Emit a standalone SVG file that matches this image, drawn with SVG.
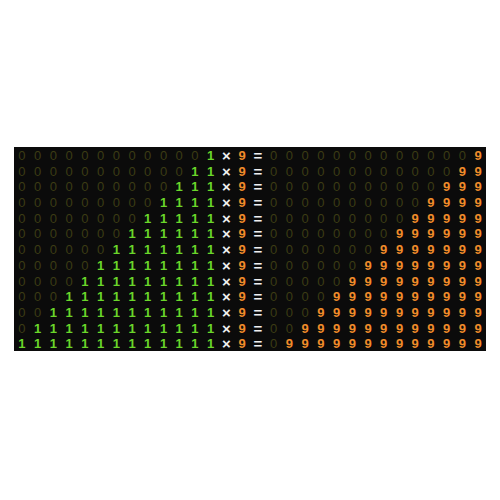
<svg xmlns="http://www.w3.org/2000/svg" width="500" height="500" viewBox="0 0 500 500">
<style>
text{font-family:"Liberation Sans","DejaVu Sans",sans-serif;font-size:13px;text-anchor:middle;dominant-baseline:central}
.z{fill:#3c3c14}
.o{fill:#6ad62a;font-weight:bold}
.w{fill:#f0f0f0;font-weight:bold;font-size:15px}
.n{fill:#f08c2a;font-weight:bold}
</style>
<rect x="0" y="0" width="500" height="500" fill="#ffffff"/>
<rect id="board" x="14" y="147" width="472" height="204" fill="#0b0b0b"/>
<g id="rows">
<text id="r0" x="21.9 37.6 53.3 69.1 84.8 100.5 116.3 132 147.7 163.5 179.2 194.9 210.7 226.4 242.1 257.9 273.6 289.3 305.1 320.8 336.5 352.3 368 383.7 399.5 415.2 430.9 446.7 462.4 478.1" y="154.9"><tspan class="z">000000000000</tspan><tspan class="o">1</tspan><tspan class="w">×</tspan><tspan class="n">9</tspan><tspan class="w">=</tspan><tspan class="z">0000000000000</tspan><tspan class="n">9</tspan></text>
<text id="r1" x="21.9 37.6 53.3 69.1 84.8 100.5 116.3 132 147.7 163.5 179.2 194.9 210.7 226.4 242.1 257.9 273.6 289.3 305.1 320.8 336.5 352.3 368 383.7 399.5 415.2 430.9 446.7 462.4 478.1" y="170.6"><tspan class="z">00000000000</tspan><tspan class="o">11</tspan><tspan class="w">×</tspan><tspan class="n">9</tspan><tspan class="w">=</tspan><tspan class="z">000000000000</tspan><tspan class="n">99</tspan></text>
<text id="r2" x="21.9 37.6 53.3 69.1 84.8 100.5 116.3 132 147.7 163.5 179.2 194.9 210.7 226.4 242.1 257.9 273.6 289.3 305.1 320.8 336.5 352.3 368 383.7 399.5 415.2 430.9 446.7 462.4 478.1" y="186.3"><tspan class="z">0000000000</tspan><tspan class="o">111</tspan><tspan class="w">×</tspan><tspan class="n">9</tspan><tspan class="w">=</tspan><tspan class="z">00000000000</tspan><tspan class="n">999</tspan></text>
<text id="r3" x="21.9 37.6 53.3 69.1 84.8 100.5 116.3 132 147.7 163.5 179.2 194.9 210.7 226.4 242.1 257.9 273.6 289.3 305.1 320.8 336.5 352.3 368 383.7 399.5 415.2 430.9 446.7 462.4 478.1" y="202"><tspan class="z">000000000</tspan><tspan class="o">1111</tspan><tspan class="w">×</tspan><tspan class="n">9</tspan><tspan class="w">=</tspan><tspan class="z">0000000000</tspan><tspan class="n">9999</tspan></text>
<text id="r4" x="21.9 37.6 53.3 69.1 84.8 100.5 116.3 132 147.7 163.5 179.2 194.9 210.7 226.4 242.1 257.9 273.6 289.3 305.1 320.8 336.5 352.3 368 383.7 399.5 415.2 430.9 446.7 462.4 478.1" y="217.7"><tspan class="z">00000000</tspan><tspan class="o">11111</tspan><tspan class="w">×</tspan><tspan class="n">9</tspan><tspan class="w">=</tspan><tspan class="z">000000000</tspan><tspan class="n">99999</tspan></text>
<text id="r5" x="21.9 37.6 53.3 69.1 84.8 100.5 116.3 132 147.7 163.5 179.2 194.9 210.7 226.4 242.1 257.9 273.6 289.3 305.1 320.8 336.5 352.3 368 383.7 399.5 415.2 430.9 446.7 462.4 478.1" y="233.4"><tspan class="z">0000000</tspan><tspan class="o">111111</tspan><tspan class="w">×</tspan><tspan class="n">9</tspan><tspan class="w">=</tspan><tspan class="z">00000000</tspan><tspan class="n">999999</tspan></text>
<text id="r6" x="21.9 37.6 53.3 69.1 84.8 100.5 116.3 132 147.7 163.5 179.2 194.9 210.7 226.4 242.1 257.9 273.6 289.3 305.1 320.8 336.5 352.3 368 383.7 399.5 415.2 430.9 446.7 462.4 478.1" y="249.1"><tspan class="z">000000</tspan><tspan class="o">1111111</tspan><tspan class="w">×</tspan><tspan class="n">9</tspan><tspan class="w">=</tspan><tspan class="z">0000000</tspan><tspan class="n">9999999</tspan></text>
<text id="r7" x="21.9 37.6 53.3 69.1 84.8 100.5 116.3 132 147.7 163.5 179.2 194.9 210.7 226.4 242.1 257.9 273.6 289.3 305.1 320.8 336.5 352.3 368 383.7 399.5 415.2 430.9 446.7 462.4 478.1" y="264.8"><tspan class="z">00000</tspan><tspan class="o">11111111</tspan><tspan class="w">×</tspan><tspan class="n">9</tspan><tspan class="w">=</tspan><tspan class="z">000000</tspan><tspan class="n">99999999</tspan></text>
<text id="r8" x="21.9 37.6 53.3 69.1 84.8 100.5 116.3 132 147.7 163.5 179.2 194.9 210.7 226.4 242.1 257.9 273.6 289.3 305.1 320.8 336.5 352.3 368 383.7 399.5 415.2 430.9 446.7 462.4 478.1" y="280.5"><tspan class="z">0000</tspan><tspan class="o">111111111</tspan><tspan class="w">×</tspan><tspan class="n">9</tspan><tspan class="w">=</tspan><tspan class="z">00000</tspan><tspan class="n">999999999</tspan></text>
<text id="r9" x="21.9 37.6 53.3 69.1 84.8 100.5 116.3 132 147.7 163.5 179.2 194.9 210.7 226.4 242.1 257.9 273.6 289.3 305.1 320.8 336.5 352.3 368 383.7 399.5 415.2 430.9 446.7 462.4 478.1" y="296.2"><tspan class="z">000</tspan><tspan class="o">1111111111</tspan><tspan class="w">×</tspan><tspan class="n">9</tspan><tspan class="w">=</tspan><tspan class="z">0000</tspan><tspan class="n">9999999999</tspan></text>
<text id="r10" x="21.9 37.6 53.3 69.1 84.8 100.5 116.3 132 147.7 163.5 179.2 194.9 210.7 226.4 242.1 257.9 273.6 289.3 305.1 320.8 336.5 352.3 368 383.7 399.5 415.2 430.9 446.7 462.4 478.1" y="311.9"><tspan class="z">00</tspan><tspan class="o">11111111111</tspan><tspan class="w">×</tspan><tspan class="n">9</tspan><tspan class="w">=</tspan><tspan class="z">000</tspan><tspan class="n">99999999999</tspan></text>
<text id="r11" x="21.9 37.6 53.3 69.1 84.8 100.5 116.3 132 147.7 163.5 179.2 194.9 210.7 226.4 242.1 257.9 273.6 289.3 305.1 320.8 336.5 352.3 368 383.7 399.5 415.2 430.9 446.7 462.4 478.1" y="327.6"><tspan class="z">0</tspan><tspan class="o">111111111111</tspan><tspan class="w">×</tspan><tspan class="n">9</tspan><tspan class="w">=</tspan><tspan class="z">00</tspan><tspan class="n">999999999999</tspan></text>
<text id="r12" x="21.9 37.6 53.3 69.1 84.8 100.5 116.3 132 147.7 163.5 179.2 194.9 210.7 226.4 242.1 257.9 273.6 289.3 305.1 320.8 336.5 352.3 368 383.7 399.5 415.2 430.9 446.7 462.4 478.1" y="343.3"><tspan class="o">1111111111111</tspan><tspan class="w">×</tspan><tspan class="n">9</tspan><tspan class="w">=</tspan><tspan class="z">0</tspan><tspan class="n">9999999999999</tspan></text>
</g>
</svg>
